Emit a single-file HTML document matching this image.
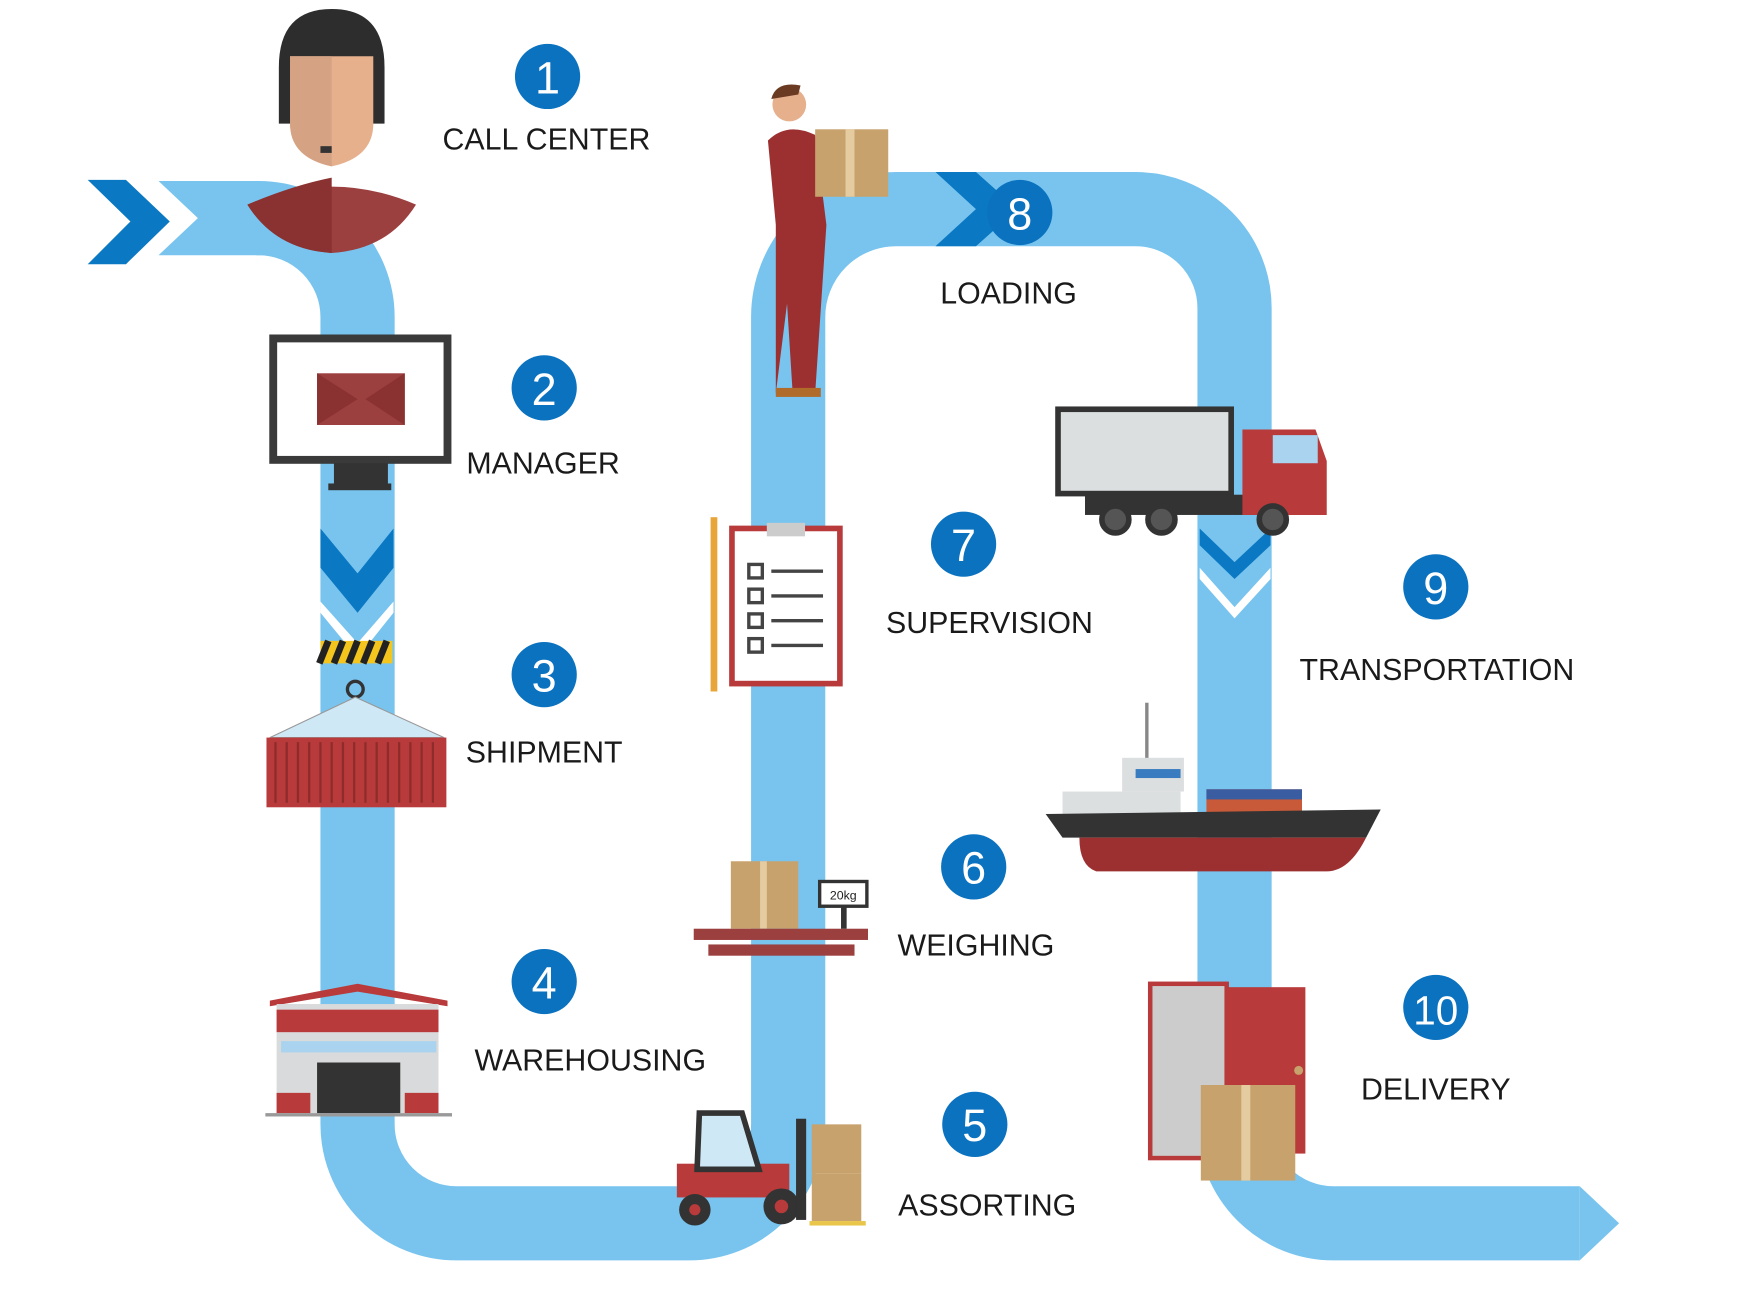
<!DOCTYPE html>
<html><head><meta charset="utf-8"><style>
html,body{margin:0;padding:0;background:#fff}
svg{display:block}
text{font-family:"Liberation Sans",sans-serif}
</style></head><body>
<svg width="1754" height="1302" viewBox="0 0 1560 1158" xmlns="http://www.w3.org/2000/svg">
<g fill="none" stroke="#78c4ef" stroke-width="66">
<path d="M 228 194 L 230 194 A 88 88 0 0 1 318 282 L 318 1000 A 88 88 0 0 0 406 1088 L 613 1088 A 88 88 0 0 0 701 1000 L 701 282 A 96 96 0 0 1 797 186 L 1010 186 A 88 88 0 0 1 1098 274 L 1098 1000 A 88 88 0 0 0 1186 1088 L 1405 1088"/>
</g>
<polygon points="141,161 232,161 232,227 141,227 176,194" fill="#78c4ef"/>
<polygon points="1405,1055 1440,1088 1405,1121" fill="#78c4ef"/>
<!-- chevrons -->
<g fill="#0a78c2">
<polygon points="78,160 112,160 151,197 112,235 78,235 116,197"/>
<polygon points="832,153 868,153 905,186 868,219 832,219 868,186"/>
<polygon points="285,470 318,510 350,470 350,505 318,545 285,505"/>
<polygon points="1067,470 1098,500 1130,470 1130,485 1098,515 1067,485"/>
</g>
<polygon points="285,535 318,572 350,535 350,545 318,585 285,545" fill="#fff"/>
<polygon points="1067,505 1098,540 1130,505 1130,515 1098,550 1067,515" fill="#fff"/>
<polygon points="290,450 318,468 346,450 346,440 290,440" fill="#78c4ef"/>

<!-- 1 call center -->
<path d="M248 60 Q248 8 295 8 Q342 8 342 60 L342 110 L248 110 Z" fill="#2d2d2d"/>
<path d="M258 50 L332 50 L332 110 Q332 140 295 148 Q258 140 258 110 Z" fill="#e6b08c"/>
<path d="M295 50 L258 50 L258 110 Q258 140 295 148 Z" fill="#d5a383"/>
<path d="M220 182 Q295 150 370 182 Q345 222 295 225 Q245 222 220 182 Z" fill="#9c3f3f"/>
<path d="M220 182 Q260 165 295 158 L295 225 Q245 222 220 182 Z" fill="#8a3131"/>
<rect x="285" y="130" width="10" height="6" fill="#333"/>
<!-- 2 monitor -->
<rect x="243" y="301" width="155" height="108" fill="#fff" stroke="#3a3a3a" stroke-width="7"/>
<rect x="282" y="332" width="78" height="46" fill="#9c3f3f"/>
<polygon points="282,332 318,355 282,378" fill="#8a3131"/><polygon points="360,332 325,355 360,378" fill="#8a3131"/>
<rect x="297" y="412" width="48" height="20" fill="#333"/><rect x="292" y="430" width="56" height="6" fill="#333"/>
<!-- 3 shipment -->
<rect x="285" y="570" width="64" height="20" fill="#f4c51d"/>
<path d="M292 570 l-8 20 M305 570 l-8 20 M318 570 l-8 20 M331 570 l-8 20 M344 570 l-8 20" stroke="#222" stroke-width="6"/>
<circle cx="316" cy="613" r="7" fill="none" stroke="#333" stroke-width="3"/>
<polygon points="316,620 240,656 395,656" fill="#cfe8f5" stroke="#999"/>
<rect x="237" y="656" width="160" height="62" fill="#b83a3a"/>
<path d="M245 660 V714 M255 660 V714 M265 660 V714 M275 660 V714 M285 660 V714 M295 660 V714 M305 660 V714 M315 660 V714 M325 660 V714 M335 660 V714 M345 660 V714 M355 660 V714 M365 660 V714 M375 660 V714 M385 660 V714" stroke="#8e2c2c" stroke-width="2"/>
<!-- 4 warehouse -->
<polygon points="240,890 318,875 398,890 398,895 318,882 240,895" fill="#b83a3a"/>
<rect x="246" y="893" width="144" height="97" fill="#d9dadb"/>
<rect x="246" y="898" width="144" height="20" fill="#b83a3a"/>
<rect x="250" y="926" width="138" height="10" fill="#a9d3ef"/>
<rect x="282" y="945" width="74" height="45" fill="#333"/>
<rect x="246" y="972" width="30" height="18" fill="#b83a3a"/><rect x="360" y="972" width="30" height="18" fill="#b83a3a"/>
<rect x="236" y="990" width="166" height="3" fill="#999"/>
<!-- 5 forklift -->
<rect x="602" y="1035" width="100" height="30" fill="#b83a3a"/>
<path d="M622 990 L660 990 L675 1040 L620 1040 Z" fill="#cfe8f5" stroke="#333" stroke-width="5"/>
<circle cx="618" cy="1076" r="14" fill="#333"/><circle cx="695" cy="1073" r="16" fill="#333"/>
<circle cx="618" cy="1076" r="5" fill="#b83a3a"/><circle cx="695" cy="1073" r="6" fill="#b83a3a"/>
<rect x="708" y="995" width="9" height="90" fill="#333"/>
<rect x="722" y="1000" width="44" height="44" fill="#c8a26c"/><rect x="722" y="1044" width="44" height="42" fill="#c8a26c"/>
<rect x="720" y="1086" width="50" height="4" fill="#e9c64a"/>
<!-- 6 scale -->
<rect x="650" y="766" width="60" height="60" fill="#c8a26c"/><rect x="676" y="766" width="6" height="60" fill="#e4cba0"/>
<rect x="617" y="826" width="155" height="10" fill="#9c3f3f"/>
<rect x="630" y="840" width="130" height="10" fill="#9c3f3f"/>
<rect x="729" y="784" width="42" height="22" fill="#fff" stroke="#333" stroke-width="3"/>
<text x="750" y="800" font-size="11" text-anchor="middle" fill="#222">20kg</text>
<rect x="748" y="806" width="5" height="20" fill="#333"/>
<!-- 7 clipboard -->
<rect x="632" y="460" width="6" height="155" fill="#e8a53a"/>
<rect x="651" y="470" width="96" height="138" fill="#fff" stroke="#b83a3a" stroke-width="5"/>
<rect x="682" y="465" width="34" height="12" fill="#ccc"/>
<g fill="none" stroke="#444" stroke-width="3"><rect x="666" y="502" width="12" height="12"/><rect x="666" y="524" width="12" height="12"/><rect x="666" y="546" width="12" height="12"/><rect x="666" y="568" width="12" height="12"/>
<path d="M686 508 H732 M686 530 H732 M686 552 H732 M686 574 H732"/></g>
<!-- 8 worker -->
<circle cx="702" cy="93" r="15" fill="#e6b08c"/><path d="M686 88 Q690 72 712 76 L710 84 Z" fill="#6b3a22"/>
<path d="M683 125 Q700 108 725 120 L735 200 L725 350 L705 350 L700 270 L690 350 L690 200 Z" fill="#9c3030"/>
<rect x="725" y="115" width="65" height="60" fill="#c8a26c"/><rect x="752" y="115" width="8" height="60" fill="#e4cba0"/>
<rect x="690" y="345" width="40" height="8" fill="#b06a2a"/>
<!-- 9 truck -->
<rect x="941" y="364" width="154" height="75" fill="#dcdfe0" stroke="#333" stroke-width="5"/>
<rect x="965" y="440" width="210" height="18" fill="#333"/>
<path d="M1105 382 L1170 382 L1180 410 L1180 458 L1105 458 Z" fill="#b83a3a"/>
<rect x="1132" y="387" width="40" height="25" fill="#a9d3ef"/>
<g fill="#555" stroke="#333" stroke-width="5"><circle cx="992" cy="462" r="12"/><circle cx="1033" cy="462" r="12"/><circle cx="1132" cy="462" r="12"/></g>
<!-- ship -->
<line x1="1020" y1="625" x2="1020" y2="675" stroke="#888" stroke-width="3"/>
<rect x="998" y="674" width="55" height="30" fill="#dcdfe0"/><rect x="1010" y="684" width="40" height="8" fill="#3a7cc0"/>
<rect x="945" y="704" width="105" height="20" fill="#dcdfe0"/>
<rect x="1073" y="702" width="85" height="28" fill="#c85a3a"/><rect x="1073" y="702" width="85" height="9" fill="#3a5ca0"/>
<path d="M930 724 L1228 720 L1215 745 L945 745 Z" fill="#333"/>
<path d="M960 745 L1215 745 Q1200 775 1180 775 L975 775 Q960 770 960 745 Z" fill="#9c3030"/>
<!-- 10 door -->
<rect x="1023" y="875" width="68" height="155" fill="#ccc" stroke="#b83a3a" stroke-width="4"/>
<rect x="1091" y="878" width="70" height="148" fill="#b83a3a"/>
<circle cx="1155" cy="952" r="4" fill="#c8a26c"/>
<rect x="1068" y="965" width="84" height="85" fill="#c8a26c"/><rect x="1104" y="965" width="8" height="85" fill="#e4cba0"/>

<!-- numbers -->
<g fill="#0b72bf">
<circle cx="487" cy="68" r="29"/><circle cx="484" cy="345" r="29"/><circle cx="484" cy="600" r="29"/><circle cx="484" cy="873" r="29"/><circle cx="867" cy="1000" r="29"/><circle cx="866" cy="771" r="29"/><circle cx="857" cy="484" r="29"/><circle cx="907" cy="189" r="29"/><circle cx="1277" cy="522" r="29"/><circle cx="1277" cy="896" r="29"/>
</g>
<g fill="#fff" font-size="40" text-anchor="middle">
<text x="487" y="83">1</text><text x="484" y="360">2</text><text x="484" y="615">3</text><text x="484" y="888">4</text><text x="867" y="1015">5</text><text x="866" y="786">6</text><text x="857" y="499">7</text><text x="907" y="204">8</text><text x="1277" y="537">9</text><text x="1277" y="911" font-size="36">10</text>
</g>
<g fill="#1a1a1a" font-size="27" text-anchor="middle">
<text x="486" y="133">CALL CENTER</text><text x="483" y="421">MANAGER</text><text x="484" y="678">SHIPMENT</text><text x="525" y="952">WAREHOUSING</text><text x="878" y="1081">ASSORTING</text><text x="868" y="850">WEIGHING</text><text x="880" y="563">SUPERVISION</text><text x="897" y="270">LOADING</text><text x="1278" y="605">TRANSPORTATION</text><text x="1277" y="978">DELIVERY</text>
</g>
</svg>
</body></html>
